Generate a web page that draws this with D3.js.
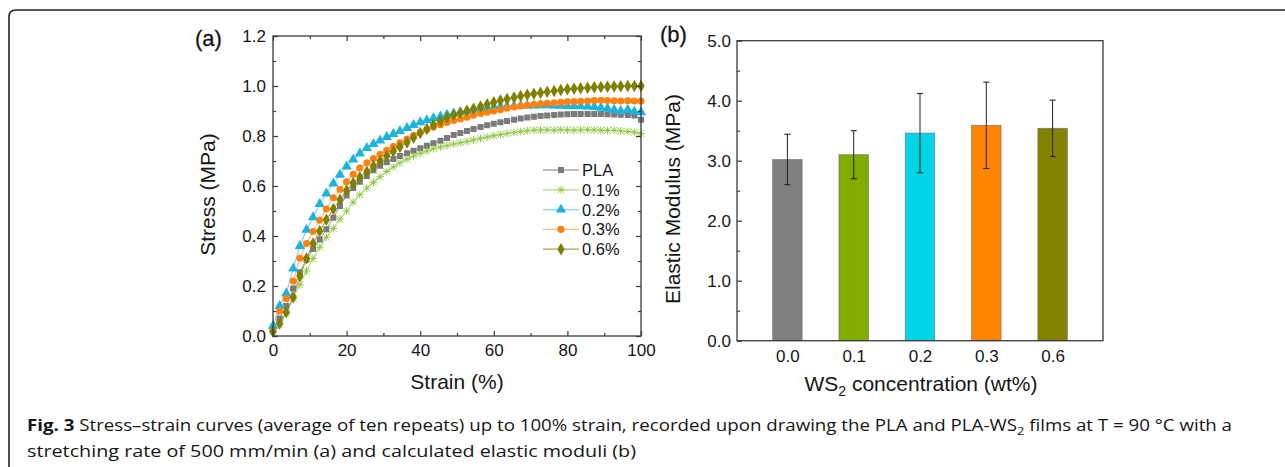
<!DOCTYPE html>
<html>
<head>
<meta charset="utf-8">
<script src="https://cdn.jsdelivr.net/npm/d3@7"></script>
<style>
  html, body { margin: 0; padding: 0; background: #fff; }
  svg { display: block; }
  text { font-family: "Liberation Sans", Arial, sans-serif; fill: #161616; }
</style>
</head>
<body>
<svg id="chart" width="1285" height="467"></svg>
<script>
// ---------------- DATA ----------------
const strain = [0, 1.8, 3.6, 5.5, 7.3, 9.1, 10.9, 12.7, 14.5, 16.4, 18.2, 20,
  21.8, 23.6, 25.5, 27.3, 29.1, 30.9, 32.7, 34.5, 36.4, 38.2, 40,
  41.8, 43.6, 45.5, 47.3, 49.1, 50.9, 52.7, 54.5, 56.4, 58.2, 60,
  61.8, 63.6, 65.5, 67.3, 69.1, 70.9, 72.7, 74.5, 76.4, 78.2, 80,
  81.8, 83.6, 85.5, 87.3, 89.1, 90.9, 92.7, 94.5, 96.4, 98.2, 100];

const stressPLA = [0.035, 0.07, 0.12, 0.19, 0.255, 0.305, 0.348, 0.386, 0.427, 0.473, 0.52, 0.562,
  0.592, 0.617, 0.64, 0.663, 0.681, 0.695, 0.708, 0.72, 0.731, 0.741, 0.751,
  0.761, 0.771, 0.781, 0.792, 0.804, 0.812, 0.82, 0.828, 0.836, 0.843, 0.849,
  0.855, 0.86, 0.865, 0.87, 0.874, 0.877, 0.88, 0.882, 0.884, 0.886, 0.887,
  0.888, 0.888, 0.888, 0.888, 0.888, 0.887, 0.886, 0.885, 0.884, 0.882, 0.865];

const stress01 = [0.02, 0.045, 0.09, 0.15, 0.205, 0.26, 0.31, 0.355, 0.395, 0.43, 0.468, 0.5,
  0.535, 0.565, 0.592, 0.615, 0.637, 0.658, 0.676, 0.693, 0.707, 0.72, 0.731,
  0.74, 0.749, 0.756, 0.762, 0.768, 0.773, 0.778, 0.784, 0.79, 0.796, 0.801,
  0.806, 0.81, 0.814, 0.818, 0.821, 0.823, 0.824, 0.824, 0.823, 0.825, 0.824,
  0.823, 0.824, 0.825, 0.824, 0.823, 0.822, 0.823, 0.82, 0.818, 0.815, 0.81];

const stress02 = [0.04, 0.12, 0.17, 0.27, 0.36, 0.425, 0.475, 0.528, 0.57, 0.61, 0.645, 0.678,
  0.706, 0.73, 0.752, 0.768, 0.782, 0.796, 0.808, 0.82, 0.832, 0.844, 0.855,
  0.863, 0.871, 0.878, 0.885, 0.89, 0.895, 0.9, 0.905, 0.909, 0.912, 0.915,
  0.917, 0.919, 0.92, 0.921, 0.922, 0.922, 0.923, 0.923, 0.922, 0.921, 0.92,
  0.92, 0.919, 0.918, 0.916, 0.913, 0.91, 0.905, 0.9, 0.905, 0.898, 0.895];

const stress03 = [0.02, 0.1, 0.15, 0.22, 0.311, 0.37, 0.418, 0.463, 0.508, 0.553, 0.586, 0.617,
  0.647, 0.672, 0.693, 0.71, 0.727, 0.743, 0.758, 0.773, 0.788, 0.802, 0.815,
  0.826, 0.836, 0.845, 0.854, 0.862, 0.868, 0.875, 0.883, 0.89, 0.895, 0.9,
  0.905, 0.911, 0.916, 0.92, 0.923, 0.926, 0.929, 0.931, 0.933, 0.935, 0.937,
  0.938, 0.939, 0.94, 0.942, 0.943, 0.942, 0.941, 0.94, 0.941, 0.94, 0.94];

const stress06 = [0.017, 0.05, 0.095, 0.155, 0.24, 0.31, 0.37, 0.42, 0.465, 0.508, 0.545, 0.582,
  0.612, 0.635, 0.657, 0.68, 0.7, 0.72, 0.738, 0.756, 0.774, 0.793, 0.812,
  0.828, 0.845, 0.86, 0.873, 0.884, 0.893, 0.901, 0.909, 0.918, 0.927, 0.935,
  0.942, 0.948, 0.954, 0.96, 0.965, 0.969, 0.973, 0.977, 0.98, 0.984, 0.987,
  0.989, 0.991, 0.993, 0.995, 0.996, 0.997, 0.998, 0.999, 1.0, 1.0, 1.0];

const seriesNames = ["PLA", "0.1%", "0.2%", "0.3%", "0.6%"];
const strainTicks = [0, 20, 40, 60, 80, 100];
const stressTicks = [0, 0.2, 0.4, 0.6, 0.8, 1.0, 1.2];

const concentrations = ["0.0", "0.1", "0.2", "0.3", "0.6"];
const modulus = [3.02, 3.10, 3.46, 3.59, 3.54];
const modulusSD = [0.42, 0.40, 0.66, 0.72, 0.47];
const modulusTicks = [0, 1, 2, 3, 4, 5];

// ---------------- STYLE ----------------
const markerColors = ["#7b7b7b", "#8cc43c", "#1cb4de", "#ff8210", "#7f7f00"];
const lineColors   = ["#a8a8a8", "#b5dc80", "#7fd3ee", "#ffb77a", "#a6a650"];
const markerShapes = [d3.symbolSquare, "star", d3.symbolTriangle, d3.symbolCircle, d3.symbolDiamond];
const markerSizes  = [36, 0, 46, 40, 46];
const barColors    = ["#808080", "#82ad00", "#00d5e6", "#ff8400", "#848300"];

const svg = d3.select("#chart");
const axisColor = "#3a3a3a";

function styleAxis(g) {
  g.select(".domain").remove();
  g.selectAll(".tick line").attr("stroke", axisColor).attr("stroke-width", 1.2);
  g.selectAll(".tick text").attr("fill", "#161616");
}

// ---------------- PANEL (a) ----------------
const xA = d3.scaleLinear().domain([0, 100]).range([273, 641]);
const yA = d3.scaleLinear().domain([0, 1.2]).range([336, 36]);

const allSeries = [stressPLA, stress01, stress02, stress03, stress06];

const gA = svg.append("g");

const line = d3.line().x((d, i) => xA(strain[i])).y(d => yA(d));
allSeries.forEach((s, k) => {
  gA.append("path").datum(s)
    .attr("d", line)
    .attr("fill", "none")
    .attr("stroke", lineColors[k])
    .attr("stroke-width", 1.1);
});

function drawMarker(sel, k, x, y) {
  if (markerShapes[k] === "star") {
    const r = 3.3;
    const p = `M${x - r},${y - r}L${x + r},${y + r}M${x - r},${y + r}L${x + r},${y - r}M${x},${y - r * 1.2}L${x},${y + r * 1.2}M${x - r * 1.2},${y}L${x + r * 1.2},${y}`;
    sel.append("path").attr("d", p).attr("stroke", markerColors[k]).attr("stroke-width", 0.9).attr("fill", "none");
  } else {
    sel.append("path")
      .attr("d", d3.symbol().type(markerShapes[k]).size(markerSizes[k])())
      .attr("transform", `translate(${x},${y})`)
      .attr("fill", markerColors[k]);
  }
}

allSeries.forEach((s, k) => {
  const g = gA.append("g");
  s.forEach((v, i) => drawMarker(g, k, xA(strain[i]), yA(v)));
});

gA.append("rect").attr("x", 273).attr("y", 36).attr("width", 368).attr("height", 300)
  .attr("fill", "none").attr("stroke", axisColor).attr("stroke-width", 1.3);

const minorStrain = [10, 30, 50, 70, 90];
const minorStress = [0.1, 0.3, 0.5, 0.7, 0.9, 1.1];

gA.append("g").attr("transform", "translate(0,336)")
  .call(d3.axisBottom(xA).tickValues(strainTicks).tickSize(-5).tickPadding(8).tickFormat(d3.format("d")))
  .call(styleAxis).call(g => g.selectAll("text").attr("font-size", 17).attr("font-family", "Liberation Sans"));
gA.append("g").attr("transform", "translate(0,336)")
  .call(d3.axisBottom(xA).tickValues(minorStrain).tickSize(-3).tickFormat(""))
  .call(styleAxis);
gA.append("g").attr("transform", "translate(0,36)")
  .call(d3.axisTop(xA).tickValues(strainTicks).tickSize(-5).tickFormat(""))
  .call(styleAxis);
gA.append("g").attr("transform", "translate(0,36)")
  .call(d3.axisTop(xA).tickValues(minorStrain).tickSize(-3).tickFormat(""))
  .call(styleAxis);
gA.append("g").attr("transform", "translate(273,0)")
  .call(d3.axisLeft(yA).tickValues(stressTicks).tickSize(-5).tickPadding(7).tickFormat(d3.format(".1f")))
  .call(styleAxis).call(g => g.selectAll("text").attr("font-size", 17).attr("font-family", "Liberation Sans"));
gA.append("g").attr("transform", "translate(273,0)")
  .call(d3.axisLeft(yA).tickValues(minorStress).tickSize(-3).tickFormat(""))
  .call(styleAxis);
gA.append("g").attr("transform", "translate(641,0)")
  .call(d3.axisRight(yA).tickValues(stressTicks).tickSize(-5).tickFormat(""))
  .call(styleAxis);
gA.append("g").attr("transform", "translate(641,0)")
  .call(d3.axisRight(yA).tickValues(minorStress).tickSize(-3).tickFormat(""))
  .call(styleAxis);

gA.append("text").attr("x", 457).attr("y", 389).attr("text-anchor", "middle")
  .attr("font-size", 21).text("Strain (%)");
gA.append("text").attr("transform", "translate(215,194.5) rotate(-90)").attr("text-anchor", "middle")
  .attr("font-size", 21).text("Stress (MPa)");
gA.append("text").attr("x", 195).attr("y", 46).attr("font-size", 22).attr("stroke", "#161616").attr("stroke-width", 0.3).text("(a)");

const legend = gA.append("g");
seriesNames.forEach((name, k) => {
  const y = 170 + k * 19.8;
  legend.append("line").attr("x1", 543).attr("x2", 579).attr("y1", y).attr("y2", y)
    .attr("stroke", lineColors[k]).attr("stroke-width", 1.3);
  drawMarker(legend, k, 561, y);
  legend.append("text").attr("x", 582).attr("y", y + 6).attr("font-size", 16.5).text(name);
});

// ---------------- PANEL (b) ----------------
const xB = d3.scalePoint().domain(concentrations).range([737, 1103]).padding(0.76);
const yB = d3.scaleLinear().domain([0, 5]).range([340.7, 40.7]);
const barW = 29.5;
const gB = svg.append("g");

gB.selectAll("rect.bar").data(concentrations).enter().append("rect")
  .attr("class", "bar")
  .attr("x", d => xB(d) - barW / 2)
  .attr("width", barW)
  .attr("y", (d, i) => yB(modulus[i]))
  .attr("height", (d, i) => yB(0) - yB(modulus[i]))
  .attr("fill", (d, i) => barColors[i])
  .attr("stroke", "#6a6a6a").attr("stroke-opacity", 0.7).attr("stroke-width", 0.8);

concentrations.forEach((c, i) => {
  const x = xB(c);
  const hi = yB(modulus[i] + modulusSD[i]);
  const lo = yB(modulus[i] - modulusSD[i]);
  gB.append("line").attr("x1", x).attr("x2", x).attr("y1", hi).attr("y2", lo)
    .attr("stroke", "#222").attr("stroke-width", 1);
  [hi, lo].forEach(yy => gB.append("line").attr("x1", x - 3).attr("x2", x + 3).attr("y1", yy).attr("y2", yy)
    .attr("stroke", "#222").attr("stroke-width", 1.1));
});

gB.append("rect").attr("x", 737).attr("y", 40.7).attr("width", 366).attr("height", 300)
  .attr("fill", "none").attr("stroke", axisColor).attr("stroke-width", 1.3);

gB.append("g").attr("transform", "translate(737,0)")
  .call(d3.axisLeft(yB).tickValues(modulusTicks).tickSize(-5).tickPadding(6).tickFormat(d3.format(".1f")))
  .call(styleAxis).call(g => g.selectAll("text").attr("font-size", 17).attr("font-family", "Liberation Sans"));
gB.append("g").attr("transform", "translate(737,0)")
  .call(d3.axisLeft(yB).tickValues([0.5, 1.5, 2.5, 3.5, 4.5]).tickSize(-3).tickFormat(""))
  .call(styleAxis);
gB.append("g").attr("transform", "translate(0,340.7)")
  .call(d3.axisBottom(xB).tickSize(0).tickPadding(9))
  .call(styleAxis).call(g => g.selectAll("text").attr("font-size", 17).attr("font-family", "Liberation Sans"));

const xt = gB.append("text").attr("x", 921).attr("y", 391).attr("text-anchor", "middle").attr("font-size", 21);
xt.append("tspan").text("WS");
xt.append("tspan").attr("font-size", 14).attr("dy", 5).text("2");
xt.append("tspan").attr("dy", -5).text(" concentration (wt%)");

gB.append("text").attr("transform", "translate(680,199) rotate(-90)").attr("text-anchor", "middle")
  .attr("font-size", 21).text("Elastic Modulus (MPa)");
gB.append("text").attr("x", 660).attr("y", 42).attr("font-size", 22).attr("stroke", "#161616").attr("stroke-width", 0.3).text("(b)");

// ---------------- CAPTION ----------------
svg.append("path").attr("d", "M9,467V17Q9,10 16,10H1285")
  .attr("fill", "none").attr("stroke", "#222").attr("stroke-width", 1.6);

const cap1 = svg.append("text").attr("x", 27).attr("y", 431)
  .attr("font-family", "Open Sans").attr("font-size", 16)
  .attr("textLength", 1205).attr("lengthAdjust", "spacingAndGlyphs");
cap1.append("tspan").attr("font-weight", "bold").style("font-family", "Open Sans").text("Fig. 3");
cap1.append("tspan").style("font-family", "Open Sans").text(" Stress–strain curves (average of ten repeats) up to 100% strain, recorded upon drawing the PLA and PLA-WS");
cap1.append("tspan").style("font-family", "Open Sans").attr("font-size", 11).attr("dy", 4).text("2");
cap1.append("tspan").style("font-family", "Open Sans").attr("dy", -4).text(" films at T = 90 °C with a");

svg.append("text").attr("x", 27).attr("y", 457)
  .style("font-family", "Open Sans").attr("font-size", 16)
  .attr("textLength", 609).attr("lengthAdjust", "spacingAndGlyphs")
  .text("stretching rate of 500 mm/min (a) and calculated elastic moduli (b)");
</script>
</body>
</html>
